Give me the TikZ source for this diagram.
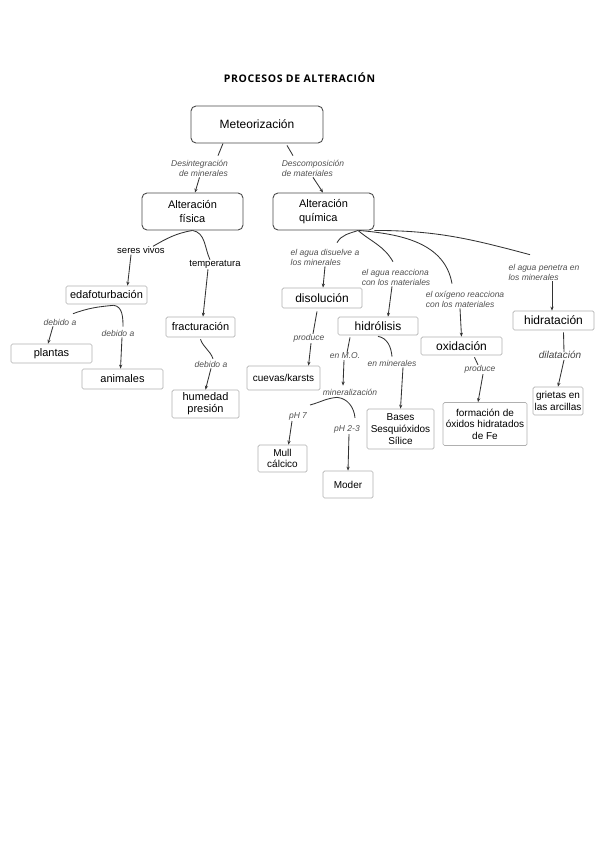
\documentclass[tikz,border=0pt]{standalone}
\usepackage{fontspec}
\setmainfont{Liberation Sans}
\newfontfamily\titlefont[LetterSpace=6]{Open Sans}
\usetikzlibrary{arrows.meta}

\definecolor{boxdark}{HTML}{4A4A4A}
\definecolor{boxlight}{HTML}{B0B0B0}
\definecolor{lblgray}{HTML}{505050}
\definecolor{linegray}{HTML}{333333}

\begin{document}
\begin{tikzpicture}[x=1pt,y=-1pt,
    mainbox/.style={draw=boxdark, line width=0.9pt, rounded corners=5pt, inner sep=0pt, align=center, font=\fontsize{11}{13.5}\selectfont},
    subbox/.style={draw=boxlight, line width=0.7pt, rounded corners=1.5pt, inner sep=0pt, align=center, font=\fontsize{11}{12}\selectfont},
    lbl/.style={text=lblgray, inner sep=1pt, font=\fontsize{8.5}{10}\selectfont\itshape},
    word/.style={inner sep=1pt, font=\fontsize{9.5}{11}\selectfont},
    conn/.style={draw=linegray, line width=0.85pt},
    arr/.style={conn, -{Stealth[length=4pt,width=3.2pt]}}]
    \useasboundingbox (0,0) rectangle (599,848);

    % Title
    \node[font=\titlefont\bfseries\fontsize{10.5}{12}\selectfont] (title) at (299.5,78) {PROCESOS DE ALTERACIÓN};

    % Top of the map
    \node[mainbox, minimum width=132, minimum height=37, font=\fontsize{12}{14}\selectfont] (met) at (257,124.5) {Meteorización};
    \node[lbl, align=right] (desint) at (199.5,168) {Desintegración\\de minerales};
    \node[lbl, align=left] (desc) at (313,168) {Descomposición\\de materiales};
    \node[mainbox, minimum width=101, minimum height=37] (fis) at (192.5,211.5) {Alteración\\física};
    \node[mainbox, minimum width=101, minimum height=37, align=left] (qui) at (323.5,211.5) {Alteración\\química};

    \draw[conn] ([xshift=-34]met.south) -- ([xshift=18.5,yshift=3]desint.north);
    \draw[arr] (desint.south) -- ([xshift=2.5]fis.north);
    \draw[conn] ([xshift=30,yshift=-2]met.south) -- ([xshift=-20,yshift=3]desc.north);
    \draw[arr] (desc.south) -- ([xshift=-0.5]qui.north);

    % Physical weathering
    \node[word] (seres) at (141,250) {seres vivos};
    \node[word] (temp) at (215,264) {temperatura};
    \node[subbox, minimum width=81, minimum height=18] (edafo) at (106.5,295) {edafoturbación};
    \node[subbox, minimum width=69, minimum height=20] (fract) at (200.5,327) {fracturación};
    \node[lbl] (debidoL) at (60,322) {debido a};
    \node[lbl] (debidoR) at (118,333) {debido a};
    \node[lbl] (debidoF) at (211,364) {debido a};
    \node[subbox, minimum width=81, minimum height=19] (plantas) at (51.5,353.5) {plantas};
    \node[subbox, minimum width=81, minimum height=20] (animales) at (122.5,379) {animales};
    \node[subbox, minimum width=67, minimum height=28] (humedad) at (205.5,404) {humedad\\presión};

    \draw[conn] (fis.south) to[out=190,in=30] ([xshift=12,yshift=-1]seres.north);
    \draw[conn] (fis.south) to[out=-10,in=115] ([xshift=-5,yshift=-1]temp.north);
    \draw[arr] ([xshift=-10]seres.south) -- ([xshift=21]edafo.north);
    \draw[arr] ([xshift=-7]temp.south) -- ([xshift=2.5]fract.north);
    \draw[conn] ([xshift=7,yshift=-1]edafo.south) to[out=185,in=20] ([xshift=13,yshift=4]debidoL.north);
    \draw[conn] ([xshift=7,yshift=-1]edafo.south) to[out=-5,in=90] ([xshift=5,yshift=2]debidoR.north);
    \draw[arr] ([xshift=-7]debidoL.south) -- ([xshift=-3.5]plantas.north);
    \draw[arr] ([xshift=4]debidoR.south) -- ([xshift=-2]animales.north);
    \draw[conn] ([yshift=-2]fract.south) to[out=-70,in=110] ([xshift=2,yshift=1]debidoF.north);
    \draw[arr] (debidoF.south) -- (humedad.north);

    % Chemical weathering
    \node[lbl, align=left] (disuelve) at (325,257) {el agua disuelve a\\los minerales};
    \node[lbl, align=left] (reacciona) at (396,277) {el agua reacciona\\con los materiales};
    \node[lbl, align=left] (oxig) at (465,299) {el oxígeno reacciona\\con los materiales};
    \node[lbl, align=left] (penetra) at (544,272) {el agua penetra en\\los minerales};
    \node[subbox, minimum width=80, minimum height=20, font=\fontsize{12}{14}\selectfont] (disol) at (322,298) {disolución};
    \node[subbox, minimum width=80, minimum height=18, font=\fontsize{12}{14}\selectfont] (hidrol) at (378,326) {hidrólisis};
    \node[subbox, minimum width=81, minimum height=18, font=\fontsize{12}{14}\selectfont] (oxid) at (461.5,346) {oxidación};
    \node[subbox, minimum width=81, minimum height=19, font=\fontsize{12}{14}\selectfont] (hidrat) at (553.5,320.5) {hidratación};

    \draw[conn] ([xshift=34.5]qui.south) to[out=200,in=60] ([xshift=12,yshift=5]disuelve.north);
    \draw[conn] ([xshift=34.5]qui.south) to[out=-40,in=120] ([xshift=-3,yshift=6]reacciona.north);
    \draw[conn] ([xshift=35.5]qui.south) to[out=-5,in=100] ([xshift=-13,yshift=6]oxig.north);
    \draw[conn] (qui.south east) to[out=0,in=165] ([xshift=-14,yshift=8]penetra.north);
    \draw[arr] (disuelve.south) -- ([xshift=1]disol.north);
    \draw[arr] ([xshift=-4]reacciona.south) -- ([xshift=10]hidrol.north);
    \draw[arr] ([xshift=-5]oxig.south) -- (oxid.north);
    \draw[arr] ([xshift=8]penetra.south) -- ([xshift=-1.5]hidrat.north);

    % Below the chemical processes
    \node[lbl] (prodD) at (309,338) {produce};
    \node[lbl] (enMO) at (345,356) {en M.O.};
    \node[lbl] (enmin) at (392,363) {en minerales};
    \node[lbl] (mineral) at (350,392) {mineralización};
    \node[lbl] (pHsiete) at (298,416) {pH 7};
    \node[lbl] (pHdos) at (347,429) {pH 2-3};
    \node[lbl] (prodO) at (480,369) {produce};
    \node[lbl, text=black!75, font=\fontsize{10}{12}\selectfont\itshape] (dilat) at (560,355) {dilatación};
    \node[subbox, minimum width=73, minimum height=24, font=\fontsize{10}{12}\selectfont] (cuevas) at (283.5,378) {cuevas/karsts};
    \node[subbox, minimum width=67, minimum height=40, font=\fontsize{10}{12}\selectfont] (bases) at (400.5,429) {Bases\\Sesquióxidos\\Sílice};
    \node[subbox, minimum width=49, minimum height=27, font=\fontsize{10}{11.5}\selectfont] (mull) at (282.5,458.5) {Mull\\cálcico};
    \node[subbox, minimum width=50, minimum height=27, font=\fontsize{10}{12}\selectfont] (moder) at (348,484.5) {Moder};
    \node[subbox, minimum width=84, minimum height=43, font=\fontsize{10}{11.5}\selectfont] (formacion) at (485,424) {formación de\\óxidos hidratados\\de Fe};
    \node[subbox, minimum width=50, minimum height=28, font=\fontsize{10}{11.5}\selectfont] (grietas) at (558,401) {grietas en\\las arcillas};

    \draw[conn] ([xshift=-5,yshift=-3]disol.south) -- ([xshift=4,yshift=-1]prodD.north);
    \draw[arr] ([xshift=2]prodD.south) -- ([xshift=25]cuevas.north);
    \draw[conn] ([xshift=-28,yshift=-2]hidrol.south) -- ([xshift=2,yshift=-1]enMO.north);
    \draw[arr] ([xshift=-1]enMO.south) -- ([xshift=-7,yshift=2]mineral.north);
    \draw[conn] ([yshift=-1]hidrol.south) to[out=-10,in=95] ([yshift=2]enmin.north);
    \draw[arr] ([xshift=11]enmin.south) -- (bases.north);
    \draw[conn] ([xshift=-13,yshift=-1]mineral.south) to[out=185,in=15] ([xshift=12,yshift=6]pHsiete.north);
    \draw[conn] ([xshift=-13,yshift=-1]mineral.south) to[out=-5,in=95] ([xshift=8,yshift=6]pHdos.north);
    \draw[arr] ([xshift=-6]pHsiete.south) -- ([xshift=6]mull.north);
    \draw[arr] ([xshift=2]pHdos.south) -- (moder.north);
    \draw[conn] ([xshift=13,yshift=-2]oxid.south) -- ([xshift=-2,yshift=-1]prodO.north);
    \draw[arr] ([xshift=3]prodO.south) -- ([xshift=-7]formacion.north);
    \draw[conn] ([xshift=10,yshift=-2]hidrat.south) -- ([xshift=4,yshift=-2]dilat.north);
    \draw[arr] ([xshift=4]dilat.south) -- (grietas.north);
\end{tikzpicture}
\end{document}
